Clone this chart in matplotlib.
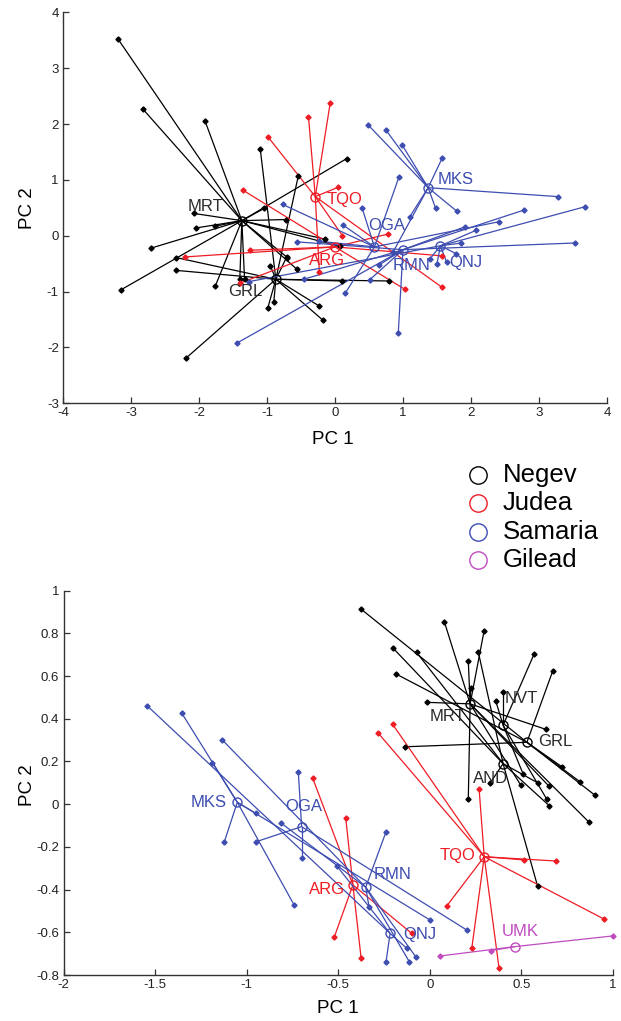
import matplotlib
matplotlib.use("Agg")
import matplotlib.pyplot as plt
from matplotlib.lines import Line2D

plt.rcParams['font.family'] = ['Liberation Sans', 'DejaVu Sans']
plt.rcParams['axes.unicode_minus'] = False

# ---------------- data ----------------
regions = ["Negev", "Judea", "Samaria", "Gilead"]

# top panel
top_site = ["MRT", "GRL", "TQO", "ARG", "MKS", "OGA", "RMN", "QNJ"]
top_region = ["Negev", "Negev", "Judea", "Judea", "Samaria", "Samaria", "Samaria", "Samaria"]
top_cx = [-1.37, -0.87, -0.29, 0.00, 1.37, 0.58, 1.00, 1.55]
top_cy = [0.27, -0.78, 0.70, -0.20, 0.86, -0.20, -0.25, -0.18]
top_leaf_x = [
    [-3.19, -2.82, -1.91, 0.17, -2.08, -2.04, -1.76, -2.70, -3.15, -1.76, -1.40, -1.33, -0.70, -0.72, 0.07, -0.15, -0.56, -1.04],
    [-1.10, -0.54, -2.34, -2.34, -0.99, -0.90, -0.18, -0.23, 0.10, 0.79, -2.19, -0.95, -0.71],
    [-0.07, -0.39, -0.98, 0.05, 0.11, 1.57, -0.23],
    [-1.36, -2.21, -1.25, -1.40, 0.78, 1.57, 1.03],
    [0.49, 0.75, 0.99, 1.58, 3.28, 1.79, 1.48, 1.10, 0.85],
    [0.40, 0.12, -0.77, 0.15, -0.23, 2.41, 0.94],
    [0.93, -1.44, -0.46, 0.51, -0.56, 3.53, 2.78, 1.91, 0.64],
    [1.50, 1.64, 1.78, 1.86, 3.68, 2.08, -1.26, 1.40],
]
top_leaf_y = [
    [3.52, 2.26, 2.05, 1.38, 0.40, 0.14, 0.17, -0.22, -0.97, -0.90, -0.78, -0.78, -0.39, 0.29, -0.19, -0.06, -0.60, 0.49],
    [1.56, 1.07, -0.39, -0.62, -1.30, -1.19, -1.51, -1.26, -0.81, -0.81, -2.19, -0.54, -0.38],
    [2.38, 2.13, 1.76, 0.87, 0.00, -0.92, -0.65],
    [0.82, -0.38, -0.26, -0.85, 0.03, -0.36, -0.96],
    [1.98, 1.89, 1.62, 1.40, 0.70, 0.44, 0.49, 0.34, -0.30],
    [0.49, 0.19, 0.56, -1.03, -0.10, 0.25, 1.05],
    [-1.75, -1.92, -0.78, -0.79, -0.11, -0.13, 0.46, 0.16, -0.53],
    [-0.50, -0.47, -0.32, -0.13, 0.52, 0.10, -0.82, -0.41],
]

# bottom panel
bot_site = ["MRT", "NVT", "GRL", "AND", "TQO", "ARG", "MKS", "OGA", "RMN", "QNJ", "UMK"]
bot_region = ["Negev", "Negev", "Negev", "Negev", "Judea", "Judea",
              "Samaria", "Samaria", "Samaria", "Samaria", "Gilead"]
bot_cx = [0.22, 0.40, 0.53, 0.40, 0.297, -0.42, -1.051, -0.70, -0.35, -0.217, 0.465]
bot_cy = [0.47, 0.37, 0.29, 0.19, -0.246, -0.378, 0.009, -0.105, -0.389, -0.605, -0.667]
bot_leaf_x = [
    [0.079, 0.296, 0.21, 0.223, -0.014, 0.21, 0.632, 0.65, 0.87, 0.496],
    [0.570, 0.40, 0.36, 0.51, 0.638],
    [-0.376, -0.135, 0.671, 0.72, 0.82, 0.90, -0.185],
    [-0.203, -0.072, 0.265, 0.589, 0.652, 0.588, 0.33],
    [0.269, 0.514, 0.687, 0.092, 0.951, 0.229, 0.378, -0.281, -0.203],
    [-0.639, -0.459, -0.522, -0.375, -0.099],
    [-1.354, -1.187, -1.122, -0.741, -0.95, 0.0],
    [-0.718, -0.70, -0.949, 0.201],
    [-0.239, -0.332, -1.133, -0.814, -0.112, -0.075],
    [-1.542, -0.508, -0.239, -0.126],
    [0.056, 0.334, 0.998],
]
bot_leaf_y = [
    [0.855, 0.811, 0.671, 0.546, 0.477, 0.023, 0.351, 0.085, -0.085, 0.09],
    [0.705, 0.527, 0.483, 0.14, 0.024],
    [0.914, 0.269, 0.624, 0.176, 0.105, 0.043, 0.61],
    [0.733, 0.711, 0.711, 0.10, -0.007, -0.383, 0.10],
    [0.071, -0.261, -0.266, -0.477, -0.538, -0.675, -0.769, 0.332, 0.374],
    [0.121, -0.066, -0.623, -0.722, -0.605],
    [0.426, 0.194, -0.176, -0.472, -0.043, -0.542],
    [0.152, -0.25, -0.176, -0.589],
    [-0.129, -0.48, 0.301, -0.087, -0.738, -0.717],
    [0.46, -0.289, -0.738, -0.675],
    [-0.711, -0.686, -0.617],
]

top_xticks = [-4, -3, -2, -1, 0, 1, 2, 3, 4]
top_yticks = [-3, -2, -1, 0, 1, 2, 3, 4]
bot_xticks = [-2, -1.5, -1, -0.5, 0, 0.5, 1]
bot_yticks = [-0.8, -0.6, -0.4, -0.2, 0, 0.2, 0.4, 0.6, 0.8, 1]

# ---------------- layout / style ----------------
colors = {"Negev": "#000000", "Judea": "#ee1c24", "Samaria": "#3d4db0", "Gilead": "#c04cc0"}
label_colors = {"Negev": "#2a2a2a", "Judea": "#ee1c24", "Samaria": "#3d4db0", "Gilead": "#c04cc0"}

# label text centres (data coords)
top_lab_pos = [(-1.91, 0.53), (-1.32, -1.00), (0.14, 0.65), (-0.11, -0.44),
               (1.78, 1.00), (0.76, 0.18), (1.12, -0.53), (1.93, -0.48)]
bot_lab_pos = [(0.097, 0.411), (0.50, 0.495), (0.683, 0.294), (0.329, 0.12),
               (0.151, -0.238), (-0.559, -0.40), (-1.205, 0.008), (-0.69, -0.011),
               (-0.204, -0.329), (-0.056, -0.61), (0.492, -0.596)]

W, H = 621, 1021
fig = plt.figure(figsize=(W / 100, H / 100), dpi=100)


def px_axes(x0, x1, ytop, ybot):
    return fig.add_axes([x0 / W, 1 - ybot / H, (x1 - x0) / W, (ybot - ytop) / H])


ax1 = px_axes(63, 607, 12.3, 403.3)
ax2 = px_axes(63.5, 613, 590.7, 975)


def draw(ax, sites, regs, cx, cy, lx, ly, labpos):
    order = [r for r in regions]
    for reg in order:
        for i, s in enumerate(sites):
            if regs[i] != reg:
                continue
            c = colors[reg]
            for x, y in zip(lx[i], ly[i]):
                ax.plot([cx[i], x], [cy[i], y], color=c, lw=0.9, solid_capstyle='butt', zorder=2)
            ax.plot(lx[i], ly[i], linestyle='none', marker='D', ms=2.6, color=c,
                    mec=c, zorder=3, clip_on=False)
            ax.plot([cx[i]], [cy[i]], linestyle='none', marker='o', ms=6.5, mfc='none',
                    mec=c, mew=1.0, zorder=4)
            ax.text(labpos[i][0], labpos[i][1], s, color=label_colors[reg], fontsize=12,
                    ha='center', va='center', zorder=5)


def style(ax, xlim, ylim, xt, yt):
    ax.set_xlim(*xlim)
    ax.set_ylim(*ylim)
    ax.set_xticks(xt)
    ax.set_yticks(yt)
    ax.set_xticklabels([f"{v:g}" for v in xt])
    ax.set_yticklabels([f"{v:g}" for v in yt])
    for sp in ['top', 'right']:
        ax.spines[sp].set_visible(False)
    for sp in ['left', 'bottom']:
        ax.spines[sp].set_color('#333333')
        ax.spines[sp].set_linewidth(1.0)
    ax.tick_params(direction='in', length=4, width=0.9, color='#333333',
                   labelsize=9.5, labelcolor='#222222', pad=3)


draw(ax1, top_site, top_region, top_cx, top_cy, top_leaf_x, top_leaf_y, top_lab_pos)
style(ax1, (-4, 4), (-3, 4), top_xticks, top_yticks)
draw(ax2, bot_site, bot_region, bot_cx, bot_cy, bot_leaf_x, bot_leaf_y, bot_lab_pos)
style(ax2, (-2, 1), (-0.8, 1), bot_xticks, bot_yticks)

# axis labels
fig.text(333 / W, 1 - 439 / H, "PC 1", fontsize=13.5, ha='center', va='center')
fig.text(28 / W, 1 - 208 / H, "PC 2", fontsize=13.5, ha='center', va='center', rotation=90)
fig.text(338 / W, 1 - 1008 / H, "PC 1", fontsize=13.5, ha='center', va='center')
fig.text(28 / W, 1 - 785 / H, "PC 2", fontsize=13.5, ha='center', va='center', rotation=90)

# legend
leg_y = [475, 503, 532, 560]
for reg, y in zip(regions, leg_y):
    fig.add_artist(Line2D([478 / W], [1 - y / H], transform=fig.transFigure, linestyle='none',
                          marker='o', ms=12.5, mfc='none', mec=colors[reg], mew=1.0))
    fig.text(503 / W, 1 - y / H, reg, fontsize=18.5, ha='left', va='center', color='black')

fig.savefig("out.png", dpi=100)
